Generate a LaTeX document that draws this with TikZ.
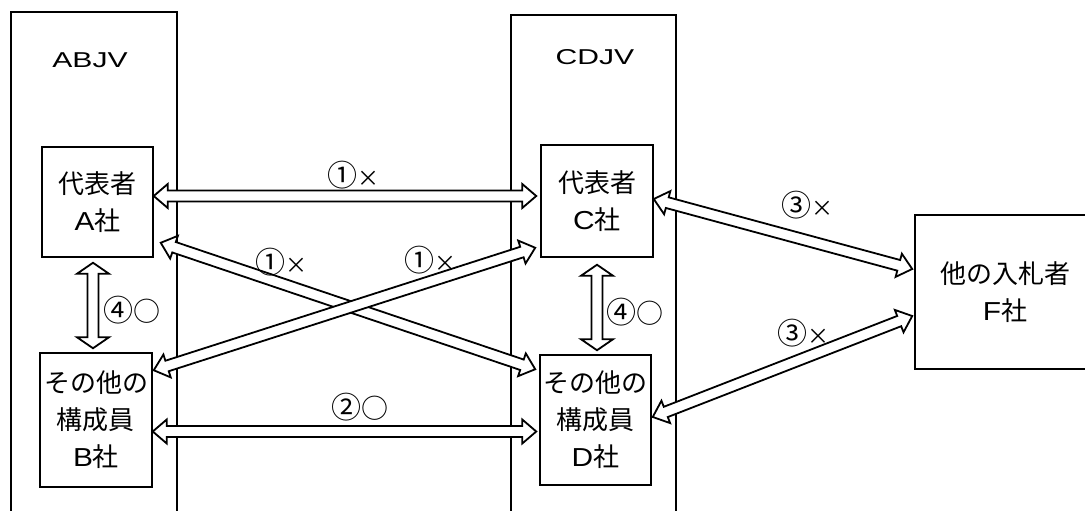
\documentclass[tikz,border=0pt]{standalone}
\usepackage{fontspec}
\usepackage{graphicx}
\setmainfont{Liberation Sans}
\newfontfamily\cjk{Noto Sans CJK JP}
\usetikzlibrary{calc}
\newcommand\lt[1]{\scalebox{1.15}[1]{#1}}
\newcommand\cnum[1]{{\fontsize{30}{30}\selectfont #1}}
\newcommand\mk[1]{{\fontsize{27}{30}\selectfont #1}}
\newcommand\dblarr[5]{%
  \path let \p1=(#4), \p2=(#5) in \pgfextra{%
    \pgfmathsetmacro\arrang{atan2(\y2-\y1,\x2-\x1)}%
    \pgfmathsetmacro\arrlen{veclen(\x2-\x1,\y2-\y1)}%
    \global\let\arrangG\arrang \global\let\arrlenG\arrlen};
  \begin{scope}[shift={(#4)},rotate=\arrangG]
    \draw[dblarrow] (0pt,0pt) -- (#1pt,#2pt) -- (#1pt,#3pt) -- ({\arrlenG pt-#1pt},#3pt)
      -- ({\arrlenG pt-#1pt},#2pt) -- (\arrlenG pt,0pt) -- ({\arrlenG pt-#1pt},-#2pt)
      -- ({\arrlenG pt-#1pt},-#3pt) -- (#1pt,-#3pt) -- (#1pt,-#2pt) -- cycle;
  \end{scope}}
\tikzset{
  frame/.style={draw, line width=2pt},
  box/.style={draw, line width=1.5pt, fill=white, inner sep=0pt, align=center,
    font=\fontsize{26}{37}\selectfont},
  dblarrow/.style={draw, line width=1.8pt, fill=white, line join=miter},
  lbl/.style={inner sep=0pt, font=\cjk\fontsize{22}{24}\selectfont},
  jvlbl/.style={inner sep=0pt, font=\fontsize{21.5}{24}\selectfont},
}
\begin{document}
\begin{tikzpicture}[x=1pt,y=-1pt]
\useasboundingbox (0,0) rectangle (1085,511);
% JV frames
\draw[frame] (11,540) -- (11,12) -- (177,12) -- (177,540);
\draw[frame] (511,540) -- (511,15) -- (676,15) -- (676,540);
\node[jvlbl] (abjv) at (90,60) {\scalebox{1.4}[1]{ABJV}};
\node[jvlbl] (cdjv) at (595,57) {\scalebox{1.4}[1]{CDJV}};
% boxes
\node[box, minimum width=111pt, minimum height=110pt] (A) at (97.5,202) {{\cjk 代表者}\\\lt{A}{\cjk 社}};
\node[box, minimum width=112pt, minimum height=134pt] (B) at (96,420) {{\cjk その他の}\\{\cjk 構成員}\\\lt{B}{\cjk 社}};
\node[box, minimum width=112pt, minimum height=112pt] (C) at (597,201) {{\cjk 代表者}\\\lt{C}{\cjk 社}};
\node[box, minimum width=111pt, minimum height=130pt] (D) at (595.5,420) {{\cjk その他の}\\{\cjk 構成員}\\\lt{D}{\cjk 社}};
\node[box, minimum width=180pt, minimum height=154pt] (F) at (1005,292) {{\cjk 他の入札者}\\\lt{F}{\cjk 社}};
% arrow end points
\coordinate (ac1) at ($(A.east)+(0,-6)$);
\coordinate (ac2) at ($(C.west)+(-4,-5)$);
\coordinate (bd1) at ($(B.east)+(0,11.5)$);
\coordinate (bd2) at ($(D.west)+(-3,11.5)$);
\coordinate (ab1) at ($(A.south)+(-4.5,5)$);
\coordinate (ab2) at ($(B.north)+(-3,-4)$);
\coordinate (cd1) at ($(C.south)+(0,7)$);
\coordinate (cd2) at ($(D.north)+(1.5,-4)$);
\coordinate (ad1) at ($(A.south east)+(7,-15)$);
\coordinate (ad2) at ($(D.north west)+(-4,15)$);
\coordinate (bc1) at ($(B.north east)+(1,18)$);
\coordinate (bc2) at ($(C.south west)+(-5,-10)$);
\coordinate (cf1) at ($(C.east)+(0,-2)$);
\coordinate (cf2) at ($(F.west)+(-2,-23)$);
\coordinate (df1) at ($(D.east)+(1,-3)$);
\coordinate (df2) at ($(F.west)+(-2,24)$);
% arrows
\dblarr{14}{12}{5.5}{ac1}{ac2}
\dblarr{14}{12}{5.5}{bd1}{bd2}
\dblarr{11}{16}{5.5}{ab1}{ab2}
\dblarr{11}{16}{5.5}{cd1}{cd2}
\dblarr{14}{12}{5.5}{ad1}{ad2}
\dblarr{14}{12}{5.5}{bc1}{bc2}
\dblarr{14}{12}{5.5}{cf1}{cf2}
\dblarr{14}{12}{5.5}{df1}{df2}
% labels
\node[lbl] (l1) at (353,175) {\cnum{①}×};
\node[lbl] (l2) at (281,262) {\cnum{①}×};
\node[lbl] (l3) at (430,260) {\cnum{①}×};
\node[lbl] (l4) at (132,310) {\cnum{④}\mk{○}};
\node[lbl] (l5) at (635,312) {\cnum{④}\mk{○}};
\node[lbl] (l6) at (360,407) {\cnum{②}\mk{○}};
\node[lbl] (l7) at (807,205) {\cnum{③}×};
\node[lbl] (l8) at (803,333) {\cnum{③}×};
\end{tikzpicture}
\end{document}
